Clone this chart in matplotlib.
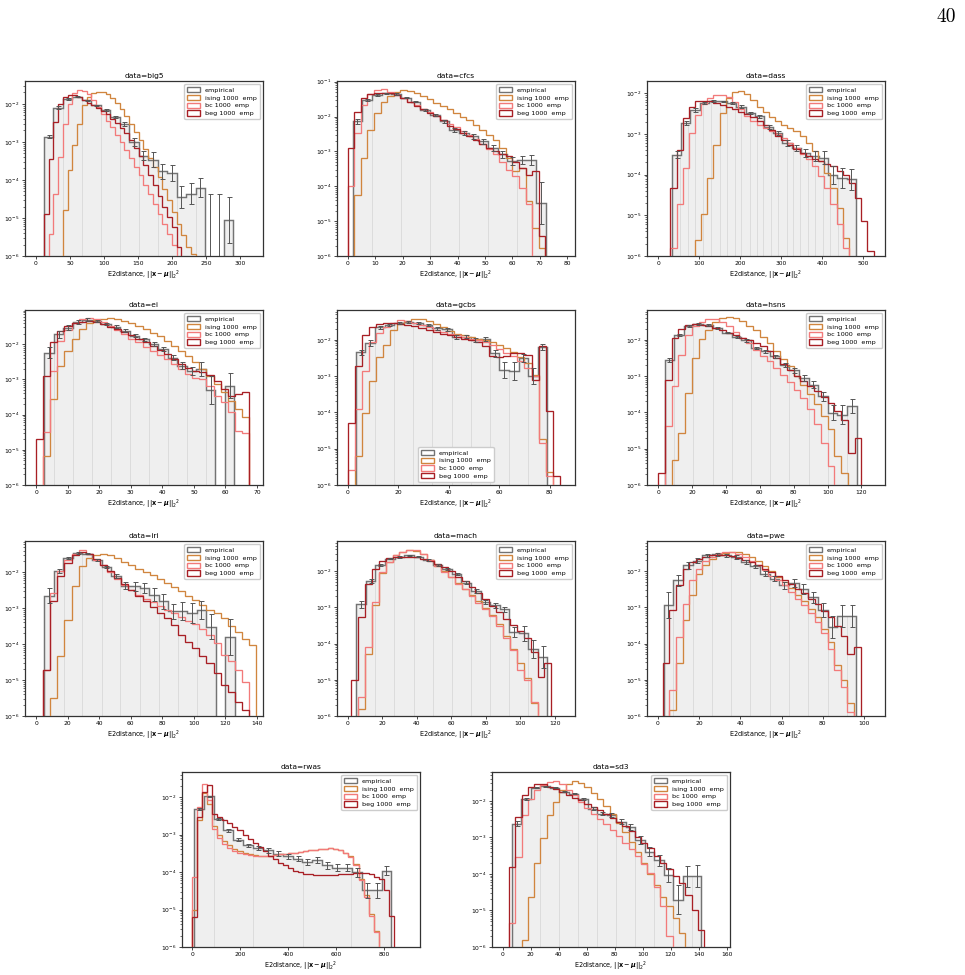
import numpy as np
import matplotlib
matplotlib.use("Agg")
import matplotlib.pyplot as plt
from matplotlib.patches import Patch

# all heights are log10(density); -8 means an empty bin
# ---------------- big5 ----------------
big5_emp_range = (11.7, 289.7)
big5_emp = [-2.86, -2.1, -1.87, -1.81, -1.91, -2.04, -2.16, -2.35, -2.53, -3.0,
            -3.36, -3.47, -3.77, -3.82, -4.45, -4.36, -4.21, -8, -8, -5.05]
big5_err = [0.05, 0.04, 0.02, 0.02, 0.02, 0.02, 0.03, 0.03, 0.05, 0.1,
            0.12, 0.2, 0.2, 0.2, 0.3, 0.27, 0.25, 3.64, 3.64, 0.6]
big5_mbins = (11.7, 6.95)
big5_ising = [-8, -8, -8, -8, -4.8, -3.75, -3.09, -2.53, -2.04, -1.81, -1.72, -1.68, -1.69, -1.75, -1.85, -1.98,
              -2.13, -2.31, -2.53, -2.74, -2.96, -3.18, -3.42, -3.66, -3.93, -4.23, -4.54, -4.84, -5.15, -5.46, -5.76, -5.94]
big5_bc = [-8, -5.41, -4.36, -3.4, -2.53, -2.0, -1.72, -1.63, -1.65, -1.75, -1.91, -2.09, -2.26, -2.44, -2.61, -2.81,
           -3.01, -3.21, -3.43, -3.65, -3.88, -4.14, -4.36, -4.63, -4.89, -5.15, -5.41, -5.72, -8, -8, -8, -8]
big5_beg = [-4.9, -3.44, -2.48, -2.0, -1.82, -1.76, -1.76, -1.81, -1.9, -1.97, -2.04, -2.1, -2.19, -2.28, -2.39, -2.51,
            -2.63, -2.77, -2.96, -3.16, -3.38, -3.62, -3.88, -4.14, -4.41, -4.71, -4.98, -5.24, -5.76, -8, -8, -8]
big5_grid = [39.5, 67.3, 95.1, 122.9, 150.7, 178.5, 206.3, 234.1]

# ---------------- cfcs ----------------
cfcs_emp_range = (1.8, 72.2)
cfcs_emp = [-2.14, -1.52, -1.38, -1.33, -1.35, -1.46, -1.57, -1.81, -1.95, -2.14,
            -2.38, -2.48, -2.57, -2.71, -2.9, -3.08, -3.27, -3.24, -3.24, -4.48]
cfcs_err = [0.06, 0.03, 0.02, 0.02, 0.02, 0.02, 0.02, 0.03, 0.03, 0.04,
            0.05, 0.06, 0.07, 0.08, 0.09, 0.1, 0.12, 0.12, 0.15, 0.6]
cfcs_mbins = (0.0, 2.4)
cfcs_ising = [-8, -4.24, -3.19, -2.38, -1.9, -1.59, -1.4, -1.3, -1.25, -1.27, -1.32, -1.41, -1.5, -1.6, -1.7, -1.79,
              -1.89, -2.0, -2.11, -2.24, -2.38, -2.52, -2.67, -2.9, -3.19, -3.57, -3.48, -4.43, -5.19, -5.76, -8]
cfcs_bc = [-4.0, -2.48, -1.67, -1.36, -1.25, -1.22, -1.29, -1.38, -1.48, -1.57, -1.67, -1.78, -1.88, -1.97, -2.1, -2.22,
           -2.31, -2.41, -2.52, -2.64, -2.78, -2.92, -3.08, -3.29, -3.52, -3.71, -4.05, -4.52, -8, -8, -8]
cfcs_beg = [-2.9, -1.86, -1.46, -1.36, -1.32, -1.31, -1.33, -1.38, -1.48, -1.59, -1.7, -1.79, -1.89, -1.98, -2.11, -2.26,
            -2.36, -2.46, -2.55, -2.67, -2.78, -2.89, -2.98, -3.08, -3.14, -3.29, -3.48, -3.67, -3.57, -5.43, -8]
cfcs_grid = [8.84, 19.4, 29.96, 40.5, 51.1, 61.6]

# ---------------- dass ----------------
dass_emp_range = (34.0, 482.0)
dass_emp = [-3.51, -2.73, -2.41, -2.24, -2.19, -2.2, -2.24, -2.33, -2.49, -2.57,
            -2.82, -2.98, -3.22, -3.35, -3.47, -3.55, -3.58, -4.0, -4.08, -4.12]
dass_err = [0.08, 0.05, 0.04, 0.03, 0.02, 0.02, 0.02, 0.03, 0.03, 0.04,
            0.05, 0.05, 0.07, 0.07, 0.1, 0.12, 0.15, 0.22, 0.25, 0.25]
dass_mbins = (30.0, 15.0)
dass_ising = [-8, -8, -8, -8, -5.6, -4.98, -4.08, -3.27, -2.49, -2.12, -1.98, -1.95, -2.02, -2.16, -2.33, -2.47, -2.59,
              -2.69, -2.78, -2.86, -2.94, -3.05, -3.22, -3.43, -3.67, -3.96, -4.33, -4.82, -5.55, -8, -8, -8, -8]
dass_bc = [-5.8, -4.73, -3.84, -2.98, -2.53, -2.27, -2.12, -2.05, -2.04, -2.09, -2.22, -2.38, -2.56, -2.69, -2.78, -2.86,
           -2.92, -3.0, -3.1, -3.22, -3.35, -3.49, -3.62, -3.8, -4.04, -4.33, -4.73, -5.22, -5.8, -8, -8, -8, -8]
dass_beg = [-4.33, -3.39, -2.61, -2.33, -2.2, -2.18, -2.19, -2.23, -2.28, -2.33, -2.39, -2.45, -2.51, -2.59, -2.69, -2.78,
            -2.9, -3.04, -3.15, -3.27, -3.36, -3.46, -3.54, -3.61, -3.67, -3.73, -3.79, -3.9, -4.0, -4.2, -4.57, -5.14, -5.88]
dass_grid = [54.5, 73, 89, 110, 130, 150, 168, 187, 203, 224, 240, 256, 276, 293, 313, 329, 346, 366, 382, 402, 419, 439]

# ---------------- ei ----------------
ei_emp_range = (2.64, 62.84)
ei_emp = [-2.24, -1.72, -1.53, -1.37, -1.31, -1.34, -1.43, -1.51, -1.62, -1.76,
          -1.86, -2.0, -2.14, -2.38, -2.61, -2.76, -2.71, -3.3, -8, -3.18]
ei_err = [0.15, 0.1, 0.07, 0.05, 0.04, 0.04, 0.04, 0.04, 0.04, 0.04,
          0.04, 0.05, 0.05, 0.06, 0.1, 0.12, 0.2, 0.4, 0, 0.35]
ei_mbins = (0.0, 2.25)
ei_ising = [-8, -5.17, -3.56, -2.61, -2.19, -1.84, -1.57, -1.4, -1.32, -1.28, -1.27, -1.29, -1.34, -1.41, -1.48, -1.57,
            -1.67, -1.78, -1.91, -2.05, -2.19, -2.35, -2.52, -2.71, -2.9, -3.13, -3.37, -3.61, -3.84, -4.08, -8]
ei_bc = [-8, -4.5, -2.76, -1.91, -1.59, -1.4, -1.29, -1.26, -1.29, -1.37, -1.48, -1.59, -1.72, -1.84, -1.95, -2.07,
         -2.19, -2.31, -2.43, -2.55, -2.71, -2.85, -2.95, -2.99, -3.18, -3.47, -3.65, -3.94, -4.46, -4.51, -8]
ei_beg = [-4.7, -2.9, -1.95, -1.62, -1.48, -1.4, -1.37, -1.35, -1.37, -1.43, -1.5, -1.57, -1.65, -1.74, -1.84, -1.93,
          -2.05, -2.17, -2.29, -2.43, -2.57, -2.67, -2.75, -2.8, -2.88, -3.04, -3.26, -3.47, -3.42, -3.37, -8]
ei_grid = [5.65, 11.67, 17.69, 23.7, 29.7, 35.7, 41.8, 47.8, 53.8, 59.8]

# ---------------- gcbs ----------------
gcbs_emp_range = (3.2, 79.0)
gcbs_emp = [-2.35, -2.09, -1.65, -1.59, -1.54, -1.5, -1.53, -1.59, -1.68, -1.71,
            -1.93, -1.91, -2.0, -1.98, -2.37, -2.82, -2.87, -2.5, -3.0, -2.2]
gcbs_err = [0.08, 0.07, 0.04, 0.03, 0.03, 0.03, 0.03, 0.03, 0.04, 0.04,
            0.05, 0.05, 0.05, 0.05, 0.1, 0.22, 0.25, 0.12, 0.22, 0.08]
gcbs_mbins = (0.0, 2.8)
gcbs_ising = [-8, -5.2, -4.01, -3.14, -2.47, -2.14, -1.74, -1.56, -1.47, -1.42, -1.42, -1.48, -1.57, -1.66, -1.75,
              -1.84, -1.88, -1.93, -1.97, -2.02, -2.07, -2.14, -2.23, -2.33, -2.47, -2.64, -2.96, -4.74, -5.65, -8]
gcbs_bc = [-5.6, -3.92, -2.87, -2.05, -1.82, -1.65, -1.53, -1.46, -1.47, -1.53, -1.59, -1.65, -1.73, -1.78, -1.83,
           -1.87, -1.93, -1.97, -2.02, -2.06, -2.14, -2.26, -2.37, -2.46, -2.59, -2.78, -3.0, -4.83, -5.74, -8]
gcbs_beg = [-4.28, -2.73, -1.86, -1.65, -1.57, -1.54, -1.53, -1.56, -1.6, -1.63, -1.68, -1.73, -1.78, -1.84, -1.88,
            -1.93, -1.97, -2.02, -2.07, -2.18, -2.46, -2.47, -2.44, -2.37, -2.37, -2.41, -3.1, -2.18, -3.96, -5.74]
gcbs_grid = [10.8, 18.4, 25.9, 33.5, 41.1, 48.7, 56.3, 63.8, 71.4]

# ---------------- hsns ----------------
hsns_emp_range = (3.9, 117.1)
hsns_emp = [-2.55, -1.86, -1.62, -1.56, -1.59, -1.68, -1.8, -1.93, -2.02, -2.23,
            -2.32, -2.46, -2.69, -2.84, -3.05, -3.24, -3.56, -4.01, -4.06, -3.83]
hsns_err = [0.06, 0.03, 0.02, 0.02, 0.02, 0.02, 0.02, 0.03, 0.03, 0.03,
            0.04, 0.04, 0.05, 0.07, 0.08, 0.1, 0.12, 0.2, 0.25, 0.2]
hsns_mbins = (0.0, 4.0)
hsns_ising = [-8, -8, -5.3, -4.56, -3.46, -2.5, -1.98, -1.73, -1.52, -1.41, -1.37, -1.4, -1.48, -1.61, -1.74, -1.91,
              -2.09, -2.32, -2.53, -2.73, -2.99, -3.24, -3.48, -3.76, -4.09, -4.47, -5.2, -5.66, -8, -8]
hsns_bc = [-8, -4.38, -3.28, -2.41, -1.86, -1.63, -1.5, -1.44, -1.43, -1.5, -1.62, -1.78, -1.94, -2.09, -2.27, -2.44,
           -2.59, -2.78, -2.96, -3.17, -3.37, -3.6, -3.92, -4.33, -4.84, -5.48, -8, -8, -8, -8]
hsns_beg = [-5.66, -3.1, -1.95, -1.71, -1.6, -1.56, -1.58, -1.62, -1.68, -1.74, -1.82, -1.88, -1.95, -2.02, -2.09,
            -2.18, -2.32, -2.5, -2.66, -2.82, -2.99, -3.13, -3.26, -3.4, -3.58, -3.74, -3.97, -4.2, -5.11, -4.7]
hsns_grid = [9.56, 20.9, 32.2, 43.5, 54.8, 66.2, 77.5, 88.8, 100.1, 111.4]

# ---------------- iri ----------------
iri_emp_range = (5.3, 125.9)
iri_emp = [-2.65, -1.97, -1.6, -1.46, -1.48, -1.65, -1.85, -2.11, -2.37, -2.39,
           -2.44, -2.62, -2.81, -3.09, -3.09, -3.13, -3.04, -3.51, -8, -3.8]
iri_err = [0.2, 0.05, 0.03, 0.02, 0.02, 0.03, 0.03, 0.05, 0.1, 0.12,
           0.15, 0.17, 0.2, 0.22, 0.25, 0.28, 0.25, 0.35, 0, 0.5]
iri_mbins = (4.5, 4.5)
iri_ising = [-8, -5.5, -4.34, -3.32, -2.39, -1.83, -1.6, -1.52, -1.49, -1.53, -1.61, -1.71, -1.8, -1.91, -2.0, -2.09,
             -2.19, -2.3, -2.41, -2.53, -2.65, -2.78, -2.91, -3.04, -3.13, -3.27, -3.49, -3.67, -3.86, -4.02]
iri_bc = [-4.72, -2.58, -1.97, -1.67, -1.48, -1.38, -1.48, -1.65, -1.79, -1.99, -2.19, -2.35, -2.5, -2.62, -2.74,
          -2.84, -2.95, -3.04, -3.13, -3.24, -3.35, -3.44, -3.58, -3.74, -3.97, -4.3, -4.46, -4.72, -5.04, -8]
iri_beg = [-4.72, -2.81, -2.11, -1.74, -1.52, -1.43, -1.49, -1.63, -1.79, -1.97, -2.16, -2.32, -2.5, -2.65, -2.81,
           -2.97, -3.12, -3.27, -3.46, -3.74, -3.93, -4.11, -4.34, -4.53, -4.81, -5.13, -5.32, -5.6, -5.83, -8]
iri_grid = [17.4, 29.4, 41.5, 53.5, 65.6, 77.7, 89.7, 101.8, 113.8]

# ---------------- mach ----------------
mach_emp_range = (5.0, 115.7)
mach_emp = [-2.92, -2.28, -1.84, -1.66, -1.61, -1.57, -1.6, -1.69, -1.83, -1.94,
            -2.07, -2.32, -2.55, -2.85, -2.94, -3.06, -3.68, -3.72, -4.14, -4.37]
mach_err = [0.1, 0.05, 0.03, 0.02, 0.02, 0.02, 0.02, 0.02, 0.03, 0.03,
            0.03, 0.04, 0.05, 0.06, 0.07, 0.08, 0.15, 0.2, 0.25, 0.3]
mach_mbins = (2.0, 4.0)
mach_ising = [-8, -5.8, -4.28, -2.94, -2.06, -1.75, -1.57, -1.48, -1.43, -1.45, -1.54, -1.69, -1.85, -2.01, -2.17,
              -2.32, -2.49, -2.65, -2.83, -3.01, -3.22, -3.47, -3.8, -4.14, -4.55, -4.96, -5.65, -8, -8]
mach_bc = [-8, -5.47, -4.09, -2.85, -2.03, -1.75, -1.55, -1.46, -1.41, -1.43, -1.53, -1.69, -1.86, -2.03, -2.17,
           -2.35, -2.5, -2.69, -2.87, -3.05, -3.25, -3.52, -3.86, -4.18, -4.73, -5.01, -5.61, -8, -8]
mach_beg = [-5.01, -3.27, -2.35, -1.94, -1.73, -1.65, -1.61, -1.6, -1.6, -1.61, -1.66, -1.72, -1.8, -1.89, -2.0,
            -2.15, -2.28, -2.44, -2.6, -2.76, -2.96, -3.13, -3.31, -3.5, -3.66, -3.86, -4.23, -4.92, -4.55]
mach_grid = [16.1, 27.1, 38.2, 49.3, 60.4, 71.4, 82.5, 93.6, 104.6]

# ---------------- pwe ----------------
pwe_emp_range = (2.75, 96.35)
pwe_emp = [-2.94, -2.26, -1.84, -1.71, -1.57, -1.54, -1.57, -1.61, -1.75, -1.87,
           -2.07, -2.21, -2.39, -2.33, -2.49, -2.72, -3.08, -3.54, -3.25, -3.25]
pwe_err = [0.35, 0.15, 0.1, 0.08, 0.05, 0.05, 0.05, 0.05, 0.05, 0.05,
           0.06, 0.07, 0.1, 0.12, 0.13, 0.15, 0.2, 0.3, 0.3, 0.3]
pwe_mbins = (2.4, 3.2)
pwe_ising = [-8, -5.83, -4.55, -3.36, -2.67, -2.07, -1.84, -1.66, -1.55, -1.49, -1.46, -1.47, -1.52, -1.61, -1.72,
             -1.85, -2.0, -2.15, -2.3, -2.47, -2.65, -2.83, -3.04, -3.27, -3.59, -3.95, -4.6, -5.01, -5.65, -8]
pwe_bc = [-8, -5.28, -3.82, -2.9, -2.26, -1.94, -1.72, -1.61, -1.51, -1.48, -1.48, -1.52, -1.61, -1.71, -1.84,
          -1.98, -2.13, -2.26, -2.39, -2.58, -2.76, -2.94, -3.17, -3.4, -3.72, -4.14, -4.73, -5.19, -5.88, -8]
pwe_beg = [-4.55, -3.08, -2.39, -1.95, -1.75, -1.66, -1.6, -1.56, -1.55, -1.55, -1.58, -1.63, -1.69, -1.75, -1.83,
           -1.93, -2.03, -2.14, -2.26, -2.37, -2.49, -2.61, -2.76, -2.9, -3.11, -3.28, -3.52, -3.8, -4.28, -4.09]
pwe_grid = [7.4, 16.8, 26.2, 35.5, 44.9, 54.2, 63.6, 73.0, 82.3, 91.7]

# ---------------- rwas ----------------
rwas_emp_range = (7.0, 830.0)
rwas_emp = [-2.31, -1.98, -2.58, -2.89, -3.14, -3.29, -3.35, -3.42, -3.51, -3.58,
            -3.64, -3.72, -3.69, -3.82, -3.88, -3.88, -4.0, -4.49, -4.49, -3.96]
rwas_err = [0.03, 0.02, 0.03, 0.04, 0.04, 0.05, 0.05, 0.06, 0.06, 0.07,
            0.07, 0.08, 0.08, 0.09, 0.1, 0.1, 0.12, 0.2, 0.2, 0.12]
rwas_mbins = (0.0, 21.0)
rwas_ising = [-5.02, -2.62, -1.89, -2.18, -2.76, -3.02, -3.17, -3.29, -3.38, -3.44, -3.48, -3.51, -3.54, -3.56,
              -3.56, -3.56, -3.55, -3.53, -3.51, -3.49, -3.48, -3.46, -3.44, -3.42, -3.4, -3.39, -3.38, -3.37,
              -3.39, -3.42, -3.48, -3.58, -3.78, -4.18, -4.62, -5.11, -5.56, -8, -8, -8, -8]
rwas_bc = [-4.13, -2.27, -1.64, -2.09, -2.84, -3.08, -3.24, -3.36, -3.44, -3.48, -3.52, -3.55, -3.56, -3.58,
           -3.58, -3.56, -3.55, -3.53, -3.51, -3.49, -3.48, -3.46, -3.44, -3.42, -3.4, -3.39, -3.38, -3.37,
           -3.39, -3.42, -3.48, -3.6, -3.8, -4.22, -4.67, -5.16, -5.6, -8, -8, -8, -8]
rwas_beg = [-5.2, -2.53, -1.87, -1.68, -2.44, -2.52, -2.6, -2.69, -2.8, -2.89, -3.0, -3.11, -3.23, -3.33,
            -3.44, -3.56, -3.66, -3.75, -3.82, -3.89, -3.96, -4.01, -4.04, -4.06, -4.08, -4.09, -4.09, -4.08,
            -4.07, -4.06, -4.05, -4.04, -4.03, -4.02, -4.03, -4.06, -4.12, -4.18, -4.49, -5.16, -8]
rwas_grid = [90.8, 255.6, 460.8, 663.0]

# ---------------- sd3 ----------------
sd3_emp_range = (6.7, 142.1)
sd3_emp = [-2.62, -1.94, -1.64, -1.6, -1.64, -1.75, -1.8, -1.96, -2.21, -2.35,
           -2.39, -2.57, -2.71, -3.07, -3.39, -3.62, -4.03, -4.71, -4.07, -4.05]
sd3_err = [0.06, 0.03, 0.02, 0.02, 0.02, 0.02, 0.02, 0.03, 0.03, 0.04,
           0.05, 0.06, 0.08, 0.1, 0.12, 0.15, 0.2, 0.4, 0.3, 0.3]
sd3_mbins = (4.5, 4.5)
sd3_ising = [-8, -8, -5.8, -4.62, -3.71, -3.03, -2.39, -2.03, -1.69, -1.53, -1.46, -1.5, -1.62, -1.78, -1.96, -2.15,
             -2.36, -2.6, -2.85, -3.12, -3.39, -3.69, -4.0, -4.3, -4.62, -4.89, -5.21, -5.62, -8, -8, -8]
sd3_bc = [-5.35, -3.53, -2.39, -1.94, -1.69, -1.57, -1.49, -1.46, -1.55, -1.69, -1.85, -2.02, -2.19, -2.35, -2.5,
          -2.64, -2.8, -2.96, -3.14, -3.32, -3.51, -3.73, -3.98, -4.35, -4.89, -5.71, -8, -8, -8, -8, -8]
sd3_beg = [-3.8, -2.44, -1.85, -1.62, -1.55, -1.55, -1.61, -1.68, -1.75, -1.84, -1.91, -1.99, -2.08, -2.17, -2.25,
           -2.35, -2.46, -2.57, -2.69, -2.83, -2.98, -3.14, -3.3, -3.51, -3.69, -3.87, -4.05, -4.24, -4.57, -4.98, -5.53]
sd3_grid = [27.0, 40.5, 54.1, 67.6, 81.2, 94.7, 108.3, 121.8, 135.3]

names = ["big5", "cfcs", "dass", "ei", "gcbs", "hsns", "iri", "mach", "pwe", "rwas", "sd3"]

# layout: axes box in pixels (left, top) and view limits
W, H = 965, 975
AW, AH = 238, 175
slots = {
    "big5": (25, 81), "cfcs": (337, 81), "dass": (647, 81),
    "ei": (25, 310), "gcbs": (337, 310), "hsns": (647, 310),
    "iri": (25, 541), "mach": (337, 541), "pwe": (647, 541),
    "rwas": (182, 772), "sd3": (492, 772),
}
xlims = {
    "big5": (-16, 333), "cfcs": (-3.9, 82.8), "dass": (-27, 553), "ei": (-3.5, 71.9),
    "gcbs": (-4.25, 90.0), "hsns": (-6.5, 133.9), "iri": (-7.0, 143.8), "mach": (-6.2, 131.7),
    "pwe": (-5.3, 110.2), "rwas": (-42, 949), "sd3": (-7.6, 162.5),
}
ytops = {"big5": -1.40, "cfcs": -0.98, "dass": -1.70, "ei": -1.03, "gcbs": -1.18, "hsns": -1.18,
         "iri": -1.13, "mach": -1.17, "pwe": -1.17, "rwas": -1.33, "sd3": -1.21}

EMP_C = "#737373"
FILL_C = "#efefef"
ERR_C = "#555555"
colors = {"ising": "#d0853e", "bc": "#f27a7a", "beg": "#a81f25"}
labels = ["empirical", "ising 1000  emp", "bc 1000  emp", "beg 1000  emp"]

fig = plt.figure(figsize=(W / 100, H / 100), dpi=100)
BASE = 1e-9

for name in names:
    g = globals()
    emp = np.array(g[name + "_emp"])
    err = np.array(g[name + "_err"])
    lo, hi = g[name + "_emp_range"]
    m0, mw = g[name + "_mbins"]

    left, top = slots[name]
    ax = fig.add_axes([left / W, 1 - (top + AH) / H, AW / W, AH / H])

    # empirical histogram: light fill, faint inner lines, grey outline
    edges = np.linspace(lo, hi, len(emp) + 1)
    h = 10.0 ** emp
    ax.stairs(h, edges, baseline=BASE, fill=True, color=FILL_C, lw=0, zorder=1)
    for x in g[name + "_grid"]:
        i = np.searchsorted(edges, x) - 1
        ax.vlines(x, 1e-6, h[i], color="#d9d9d9", lw=0.6, zorder=1.5)
    ax.stairs(h, edges, baseline=BASE, color=EMP_C, lw=1.05, zorder=2)

    # model histograms
    for k, model in enumerate(["ising", "bc", "beg"]):
        vals = np.array(g[name + "_" + model])
        medges = m0 + mw * np.arange(len(vals) + 1)
        ax.stairs(10.0 ** vals, medges, baseline=BASE, color=colors[model], lw=0.95, zorder=3 + k)

    centers = 0.5 * (edges[:-1] + edges[1:])
    m = err > 0
    ylo = h - 10.0 ** (emp - err)
    yhi = 10.0 ** (emp + err) - h
    ax.errorbar(centers[m], h[m], yerr=[ylo[m], yhi[m]], fmt="none", ecolor=ERR_C,
                elinewidth=0.7, capsize=1.8, capthick=0.7, zorder=7)

    ax.set_yscale("log")
    ax.set_ylim(1e-6, 10 ** ytops[name])
    ax.set_xlim(*xlims[name])
    ax.set_title("data=" + name, fontsize=5.4, pad=2.5)
    ax.set_xlabel(r"E2distance, $||\mathbf{x}-\boldsymbol{\mu}||_2{}^2$", fontsize=4.7, labelpad=1.5)
    ax.tick_params(which="major", labelsize=4.3, length=2.2, width=0.5, pad=1.5)
    ax.tick_params(which="minor", length=1.2, width=0.4)
    for s in ax.spines.values():
        s.set_linewidth(0.9)
        s.set_color("#333333")

    handles = [Patch(facecolor="none", edgecolor=EMP_C, lw=1.0)] + \
              [Patch(facecolor="none", edgecolor=colors[k], lw=1.0) for k in ["ising", "bc", "beg"]]
    ax.legend(handles, labels, fontsize=4.6, loc="lower center" if name == "gcbs" else "upper right",
              handlelength=2.0, handleheight=0.9, borderpad=0.45, labelspacing=0.3,
              handletextpad=0.8, framealpha=1.0, edgecolor="#cccccc")

fig.text(956 / W, 1 - 8 / H, "40", ha="right", va="top", fontsize=14, family="cmr10")

fig.savefig("out.png", dpi=100)
